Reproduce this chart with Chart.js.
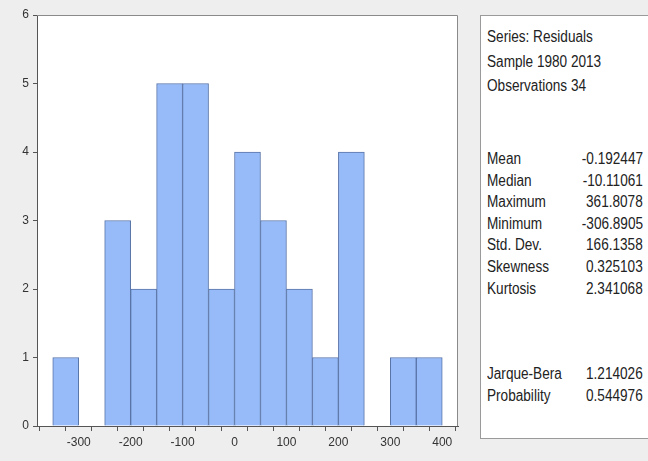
<!DOCTYPE html>
<html>
<head>
<meta charset="utf-8">
<script src="https://cdn.jsdelivr.net/npm/chart.js@4.4.1/dist/chart.umd.min.js"></script>
<style>
  html, body { margin: 0; padding: 0; background: #eeeeee; }
  #wrap { position: relative; width: 648px; height: 461px; overflow: hidden; }
  #plot { position: absolute; left: 0; top: 0; width: 470px; height: 461px; }
  #stats {
    position: absolute; left: 480px; top: 15px; width: 200px; height: 424px;
    background: #fff; border: 1px solid #9a9a9a; box-sizing: border-box;
    font-family: "Liberation Sans", Arial, sans-serif; font-size: 16px; color: #222;
  }
  .ln { position: absolute; left: 6px; transform: scaleX(0.85); transform-origin: left center; white-space: nowrap; }
  .val { position: absolute; right: 36px; transform: scaleX(0.85); transform-origin: right center; white-space: nowrap; }
</style>
</head>
<body>
<div id="wrap">
  <div id="plot"><canvas id="chart"></canvas></div>
  <div id="stats"></div>
</div>
<script>
// histogram bins (centre of each 50-wide bin) and counts
const binCenters = [-325, -275, -225, -175, -125, -75, -25, 25, 75, 125, 175, 225, 275, 325, 375];
const counts = [1, 0, 3, 2, 5, 5, 2, 4, 3, 2, 1, 4, 0, 1, 1];
const xTicks = [-350, -300, -250, -200, -150, -100, -50, 0, 50, 100, 150, 200, 250, 300, 350, 400];

const headerLines = ['Series: Residuals', 'Sample 1980 2013', 'Observations 34'];
const statNames = ['Mean', 'Median', 'Maximum', 'Minimum', 'Std. Dev.', 'Skewness', 'Kurtosis'];
const statValues = ['-0.192447', '-10.11061', '361.8078', '-306.8905', '166.1358', '0.325103', '2.341068'];
const testNames = ['Jarque-Bera', 'Probability'];
const testValues = ['1.214026', '0.544976'];

// stats box
const box = document.getElementById('stats');
const addLine = (top, label, value) => {
    const a = document.createElement('div');
    a.className = 'ln'; a.style.top = top + 'px'; a.textContent = label;
    box.appendChild(a);
    if (value !== undefined) {
        const b = document.createElement('div');
        b.className = 'val'; b.style.top = top + 'px'; b.textContent = value;
        box.appendChild(b);
    }
};
headerLines.forEach((t, i) => addLine(12 + i * 24.5, t));
statNames.forEach((t, i) => addLine(134 + i * 21.6, t, statValues[i]));
testNames.forEach((t, i) => addLine(349 + i * 22, t, testValues[i]));

const plotFrame = {
    id: 'plotFrame',
    beforeDraw(chart) {
        const { ctx, chartArea: a } = chart;
        ctx.save();
        ctx.fillStyle = '#ffffff';
        ctx.fillRect(a.left, a.top, a.right - a.left, a.bottom - a.top);
        ctx.restore();
    },
    afterDraw(chart) {
        const { ctx, chartArea: a } = chart;
        ctx.save();
        ctx.strokeStyle = '#8a8a8a';
        ctx.lineWidth = 1;
        ctx.beginPath();
        ctx.moveTo(a.left, a.top + 0.5);
        ctx.lineTo(a.right - 0.5, a.top + 0.5);
        ctx.lineTo(a.right - 0.5, a.bottom);
        ctx.stroke();
        ctx.restore();
    }
};

const tickFont = { family: '"Liberation Sans", Arial, sans-serif', size: 12 };

new Chart(document.getElementById('chart'), {
    type: 'bar',
    data: {
        datasets: [{
            data: binCenters.map((c, i) => ({ x: c, y: counts[i] })),
            backgroundColor: '#97bbf8',
            borderColor: '#5874a8',
            borderWidth: 1,
            barPercentage: 1,
            categoryPercentage: 1,
        }]
    },
    options: {
        responsive: true,
        maintainAspectRatio: false,
        animation: false,
        plugins: { legend: { display: false }, tooltip: { enabled: false } },
        layout: { padding: { top: 15, right: 12, left: 0, bottom: 0 } },
        scales: {
            x: {
                type: 'linear',
                min: -355,
                max: 405,
                afterBuildTicks: (scale) => { scale.ticks = xTicks.map(v => ({ value: v })); },
                afterFit: (scale) => { scale.height = 35; },
                grid: { drawOnChartArea: false, drawTicks: true, tickLength: 5, color: '#555' },
                border: { color: '#555' },
                ticks: {
                    autoSkip: false,
                    maxRotation: 0,
                    color: '#333',
                    font: tickFont,
                    padding: 4,
                    callback: (v) => (v % 100 === 0 ? String(v) : ''),
                },
            },
            y: {
                min: 0,
                max: 6,
                afterFit: (scale) => { scale.width = 37; },
                grid: { drawOnChartArea: false, drawTicks: true, tickLength: 4, color: '#555' },
                border: { color: '#555' },
                ticks: { stepSize: 1, color: '#333', font: tickFont, padding: 4 },
            },
        },
    },
    plugins: [plotFrame],
});
</script>
</body>
</html>
